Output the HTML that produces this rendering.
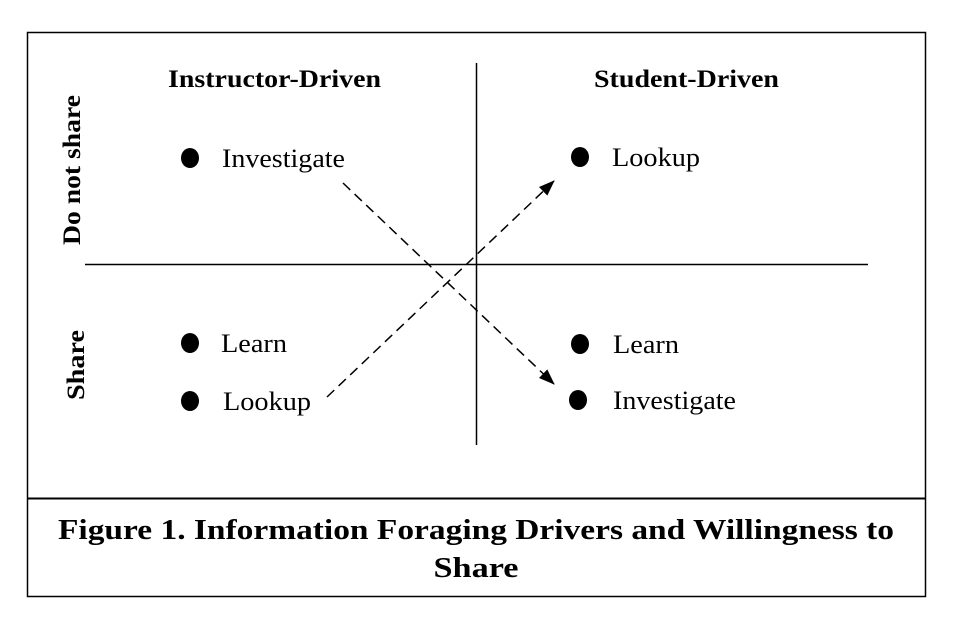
<!DOCTYPE html>
<html><head><meta charset="utf-8"><style>
html,body{margin:0;padding:0;background:#fff;}
svg{display:block;}
text{font-family:"Liberation Serif",serif;fill:#000;}
</style></head><body>
<svg width="960" height="630" viewBox="0 0 960 630" xmlns="http://www.w3.org/2000/svg">
<defs>
<marker id="ah" markerWidth="16" markerHeight="12" refX="15" refY="6" orient="auto" markerUnits="userSpaceOnUse">
<path d="M0,0 L16,6 L0,12 Z" fill="#000"/>
</marker>
</defs>
<rect x="27.5" y="32.5" width="898" height="564" fill="none" stroke="#000" stroke-width="1.5"/>
<line x1="27" y1="498.5" x2="926" y2="498.5" stroke="#000" stroke-width="2"/>
<line x1="476.5" y1="63" x2="476.5" y2="445" stroke="#000" stroke-width="1.5"/>
<line x1="85" y1="264.5" x2="868" y2="264.5" stroke="#000" stroke-width="1.5"/>
<text x="168" y="87" font-size="25" font-weight="bold" textLength="213" lengthAdjust="spacingAndGlyphs">Instructor-Driven</text>
<text x="594" y="87" font-size="25" font-weight="bold" textLength="185" lengthAdjust="spacingAndGlyphs">Student-Driven</text>
<text transform="translate(80,245) rotate(-90)" font-size="25" font-weight="bold" textLength="150" lengthAdjust="spacingAndGlyphs">Do not share</text>
<text transform="translate(84,400) rotate(-90)" font-size="25" font-weight="bold" textLength="70" lengthAdjust="spacingAndGlyphs">Share</text>
<ellipse cx="190" cy="158" rx="9" ry="10"/>
<text x="222" y="167" font-size="26" textLength="123" lengthAdjust="spacingAndGlyphs">Investigate</text>
<ellipse cx="580" cy="157" rx="9" ry="10"/>
<text x="612" y="166" font-size="26" textLength="88" lengthAdjust="spacingAndGlyphs">Lookup</text>
<ellipse cx="190" cy="343" rx="9" ry="10"/>
<text x="221" y="352" font-size="26" textLength="66" lengthAdjust="spacingAndGlyphs">Learn</text>
<ellipse cx="190" cy="401" rx="9" ry="10"/>
<text x="223" y="410" font-size="26" textLength="88" lengthAdjust="spacingAndGlyphs">Lookup</text>
<ellipse cx="580" cy="344" rx="9" ry="10"/>
<text x="613" y="353" font-size="26" textLength="66" lengthAdjust="spacingAndGlyphs">Learn</text>
<ellipse cx="578" cy="400" rx="9" ry="10"/>
<text x="613" y="409" font-size="26" textLength="123" lengthAdjust="spacingAndGlyphs">Investigate</text>
<line x1="343" y1="183" x2="554" y2="384" stroke="#000" stroke-width="1.5" stroke-dasharray="10,6" marker-end="url(#ah)"/>
<line x1="327" y1="397" x2="554" y2="181" stroke="#000" stroke-width="1.5" stroke-dasharray="10,6" marker-end="url(#ah)"/>
<text x="476" y="539" font-size="28" font-weight="bold" text-anchor="middle" textLength="836" lengthAdjust="spacingAndGlyphs">Figure 1. Information Foraging Drivers and Willingness to</text>
<text x="476" y="577" font-size="28" font-weight="bold" text-anchor="middle" textLength="85" lengthAdjust="spacingAndGlyphs">Share</text>
</svg>
</body></html>
